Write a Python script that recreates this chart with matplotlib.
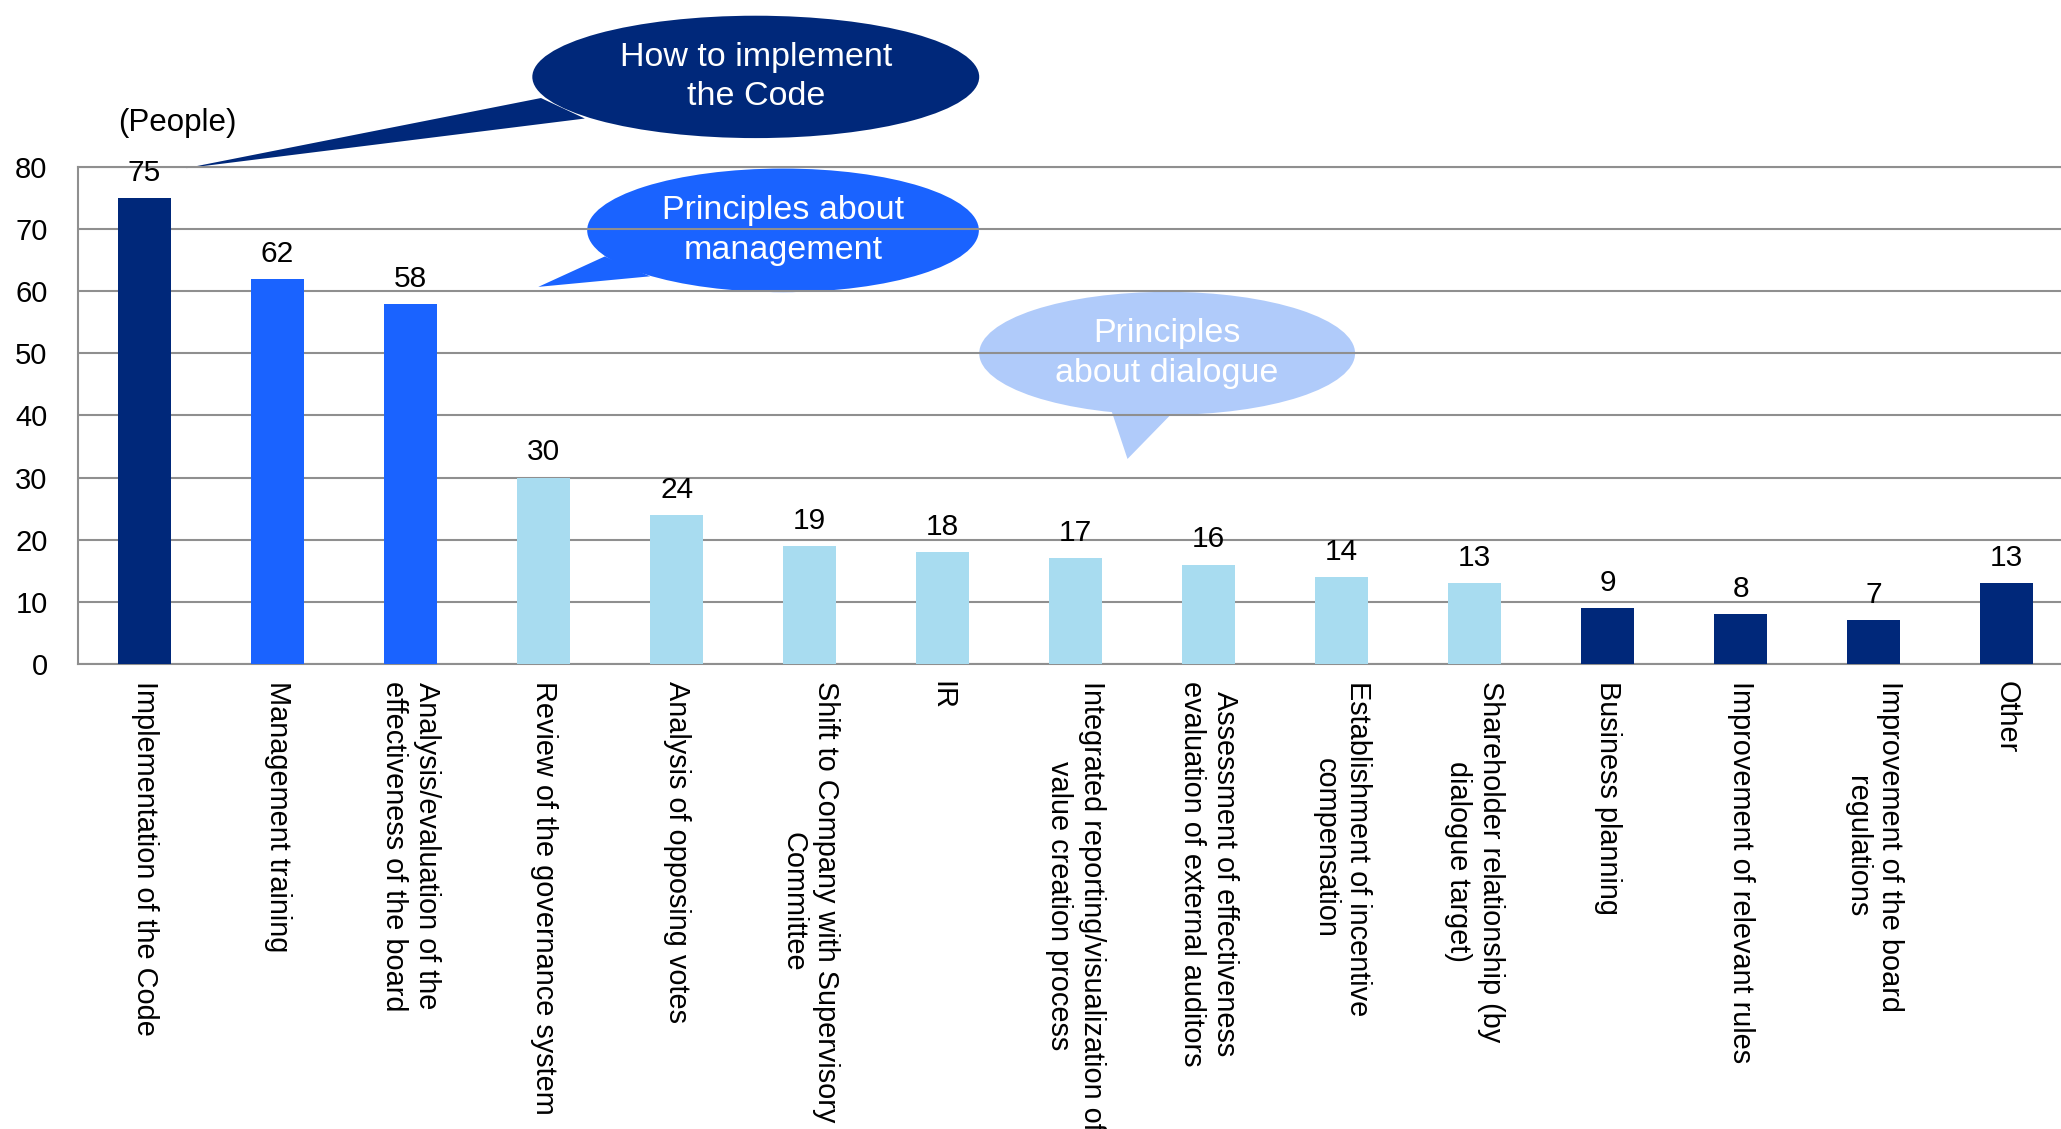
import matplotlib
matplotlib.use('Agg')
import matplotlib.pyplot as plt
from matplotlib.patches import Ellipse, Polygon

plt.rcParams['font.family'] = ['Liberation Sans', 'DejaVu Sans']

topics = [
    'Implementation of the Code',
    'Management training',
    'Analysis/evaluation of the\neffectiveness of the board',
    'Review of the governance system',
    'Analysis of opposing votes',
    'Shift to Company with Supervisory\nCommittee',
    'IR',
    'Integrated reporting/visualization of\nvalue creation process',
    'Assessment of effectiveness\nevaluation of external auditors',
    'Establishment of incentive\ncompensation',
    'Shareholder relationship (by\ndialogue target)',
    'Business planning',
    'Improvement of relevant rules',
    'Improvement of the board\nregulations',
    'Other',
]
people = [75, 62, 58, 30, 24, 19, 18, 17, 16, 14, 13, 9, 8, 7, 13]
group = ['code', 'mgmt', 'mgmt', 'dialogue', 'dialogue', 'dialogue', 'dialogue',
         'dialogue', 'dialogue', 'dialogue', 'dialogue', 'code', 'code', 'code', 'code']

NAVY = '#00287A'
BLUE = '#1A63FF'
LIGHT = '#A8DCF0'
BUBBLE3 = '#B0CBFA'
GRID = '#8F8F8F'
colors = {'code': NAVY, 'mgmt': BLUE, 'dialogue': LIGHT}

fig = plt.figure(figsize=(20.61, 11.29), dpi=100)
ax = fig.add_axes([0.0379, 0.4119, 0.968, 0.4402])

x = range(len(topics))
ax.bar(x, people, width=0.4, color=[colors[g] for g in group], zorder=3)
for i, v in zip(x, people):
    ax.annotate(str(v), (i, v), xytext=(0, 8), textcoords='offset points',
                ha='center', va='bottom', fontsize=21.5, color='black', zorder=5)

ax.set_xlim(-0.5, len(topics) - 0.5)
ax.set_ylim(0, 80)
ax.set_yticks(range(0, 81, 10))
ax.yaxis.grid(True, color=GRID, linewidth=1.5, zorder=1)
ax.set_axisbelow(False)
ax.tick_params(axis='y', length=0, pad=22, labelsize=21)
ax.tick_params(axis='x', length=0, pad=12)
ax.set_xticks(list(x))
ax.set_xticklabels(topics, rotation=-90, ha='center', va='top',
                   multialignment='center', fontsize=20.8)
for s in ['left', 'bottom', 'top']:
    ax.spines[s].set_color(GRID)
    ax.spines[s].set_linewidth(1.5)
ax.spines['right'].set_visible(False)
ax.spines['top'].set_zorder(2)

ax.text(0.25, 87.0, '(People)', ha='center', va='center', fontsize=22.5,
        clip_on=False)


def callout(cx, cy, w, h, tail, color, label):
    ax.add_patch(Ellipse((cx, cy), w, h, facecolor=color, edgecolor='none',
                         clip_on=False, zorder=0.5))
    ax.add_patch(Polygon(tail, closed=True, facecolor=color, edgecolor='none',
                         clip_on=False, zorder=0.5))
    ax.text(cx, cy, label, ha='center', va='center', color='white',
            fontsize=24.5, linespacing=1.35, zorder=6, clip_on=False)


callout(4.595, 94.5, 3.36, 19.7,
        [(2.98, 91.1), (0.31, 79.8), (3.31, 87.8)], NAVY,
        'How to implement\nthe Code')
callout(4.80, 69.8, 2.945, 19.9,
        [(3.46, 65.6), (2.96, 60.7), (3.80, 62.4)], BLUE,
        'Principles about\nmanagement')
callout(7.688, 50.0, 2.826, 19.8,
        [(7.25, 42.0), (7.39, 33.0), (7.80, 42.0)], BUBBLE3,
        'Principles\nabout dialogue')

fig.savefig('out.png', dpi=100)
